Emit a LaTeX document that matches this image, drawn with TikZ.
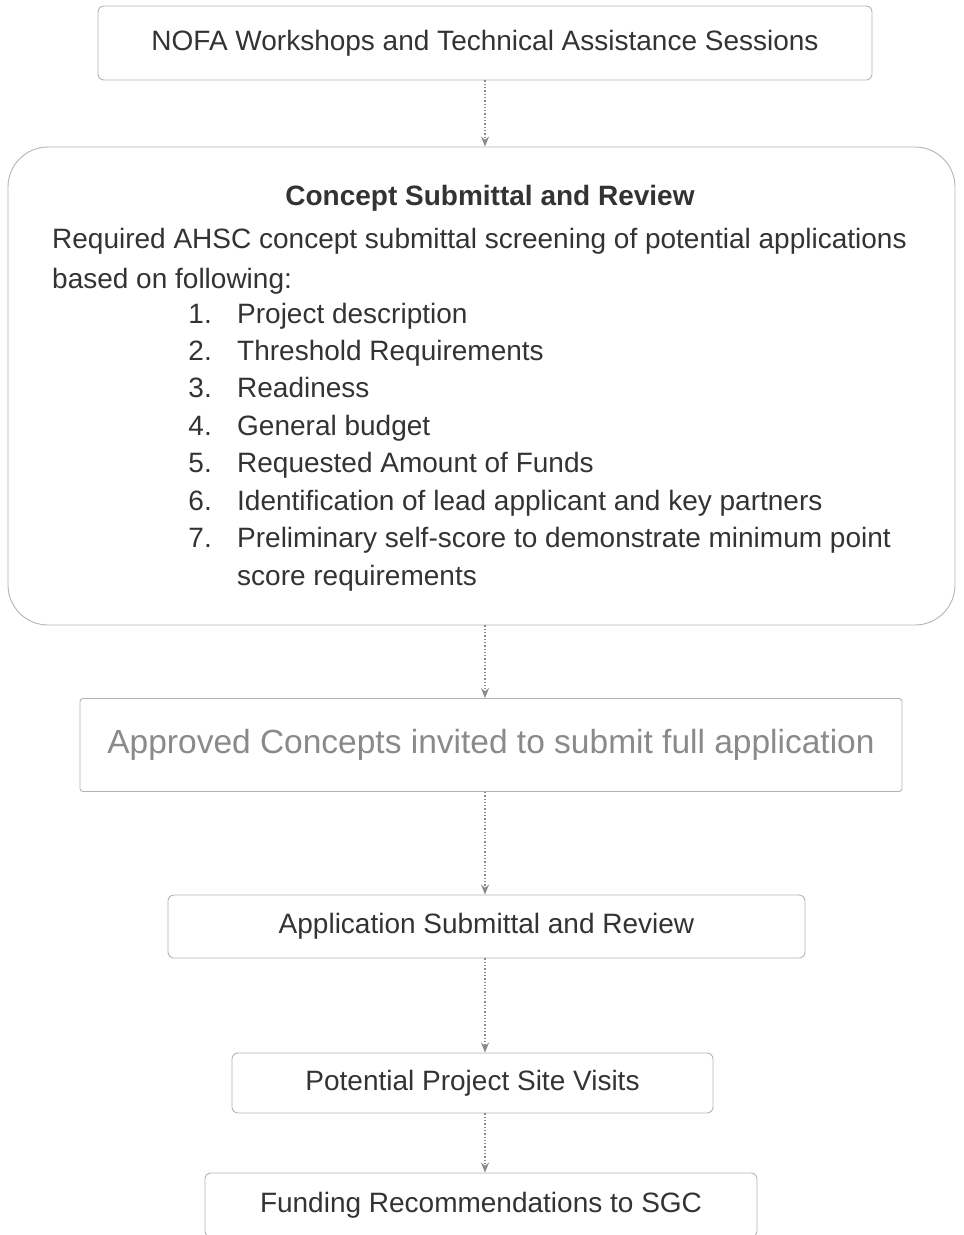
\documentclass[tikz,border=0pt]{standalone}
\usepackage{fontspec}
\setmainfont{Liberation Sans}
\usetikzlibrary{positioning,arrows.meta,calc}
\definecolor{rim}{HTML}{B4B4B4}
\definecolor{ink}{HTML}{333333}
\definecolor{faint}{HTML}{8A8A8A}
\tikzset{
  box/.style={rectangle,draw=rim,rounded corners=6pt,align=center,
    font=\fontsize{28}{32}\selectfont,text=ink,inner sep=0pt,line width=0.9pt},
  txt/.style={font=\fontsize{28}{40}\selectfont,text=ink,inner sep=0pt},
  fl/.style={-{Stealth[length=10pt,width=8pt]},draw=faint,dotted,line width=1.3pt},
}
\begin{document}
\begin{tikzpicture}[x=1pt,y=1pt]
  \useasboundingbox (0,0) rectangle (964,-1235);
  \coordinate (spine) at (485,0);
  \node[box,minimum width=774pt,minimum height=74pt] (nofa) at (485,-43) {NOFA Workshops and Technical Assistance Sessions};
  \node[box,rounded corners=40pt,minimum width=947pt,minimum height=478pt] (concept) at (481.5,-386) {};
  \node[txt,font=\bfseries\fontsize{28}{32}\selectfont] (ctitle) at (490,-198) {Concept Submittal and Review};
  \node[txt,anchor=north west,align=left] (cintro) at (52,-228) {Required AHSC concept submittal screening of potential applications\\based on following:};
  \foreach \t [count=\i] in {Project description,Threshold Requirements,Readiness,General budget,Requested Amount of Funds,Identification of lead applicant and key partners,Preliminary self-score to demonstrate minimum point}{
    \node[txt,anchor=east,text height=20pt,text depth=6pt] (num\i) at (212,-316-37.4*\i+37.4) {\i.};
    \node[txt,anchor=west,text height=20pt,text depth=6pt] (item\i) at (237,-316-37.4*\i+37.4) {\t};
  }
  \node[txt,anchor=north west,text height=20pt,text depth=6pt] (item7b) at ($(item7.south west)+(0,-11.4)$) {score requirements};
  \node[box,rounded corners=3pt,minimum width=822pt,minimum height=93pt,text=faint,font=\fontsize{33.5}{38}\selectfont] (approved) at (491,-745) {Approved Concepts invited to submit full application};
  \node[box,minimum width=637pt,minimum height=63pt] (appl) at (486.5,-926.5) {Application Submittal and Review};
  \node[box,minimum width=481pt,minimum height=60pt] (site) at (472.5,-1083) {Potential Project Site Visits};
  \node[box,minimum width=552pt,minimum height=64pt] (fund) at (481,-1205) {Funding Recommendations to SGC};
  \draw[fl] (nofa.south -| spine) -- (concept.north -| spine);
  \draw[fl] (concept.south -| spine) -- (approved.north -| spine);
  \draw[fl] (approved.south -| spine) -- (appl.north -| spine);
  \draw[fl] (appl.south -| spine) -- (site.north -| spine);
  \draw[fl] (site.south -| spine) -- (fund.north -| spine);
\end{tikzpicture}
\end{document}
